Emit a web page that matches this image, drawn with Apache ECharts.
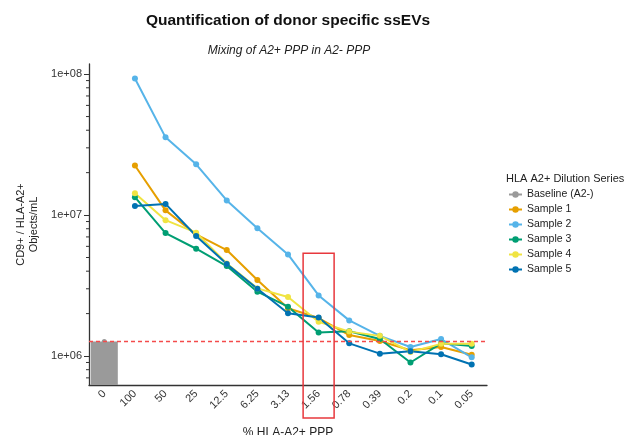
<!DOCTYPE html>
<html>
<head>
<meta charset="utf-8">
<script src="https://cdn.jsdelivr.net/npm/echarts@6/dist/echarts.min.js"></script>
<style>
  html, body { margin: 0; padding: 0; background: #fff; }
  #main { width: 633px; height: 435px; }
</style>
</head>
<body>
<div id="main"></div>
<script>
var chartDom = document.getElementById('main');
var myChart = echarts.init(chartDom);
var option;

// % HLA-A2+ PPP
const categories = ['0', '100', '50', '25', '12.5', '6.25', '3.13', '1.56', '0.78', '0.39', '0.2', '0.1', '0.05'];
const baseline = 1.27e6;
const sample1 = [null, 2.25e7, 1.08e7, 7.3e6, 5.65e6, 3.46e6, 2.18e6, 1.86e6, 1.41e6, 1.28e6, 1.10e6, 1.16e6, 1.02e6];
const sample2 = [null, 9.3e7, 3.56e7, 2.29e7, 1.27e7, 8.05e6, 5.26e6, 2.69e6, 1.79e6, 1.39e6, 1.16e6, 1.32e6, 9.8e5];
const sample3 = [null, 1.34e7, 7.45e6, 5.77e6, 4.35e6, 2.86e6, 2.24e6, 1.47e6, 1.50e6, 1.32e6, 9.0e5, 1.23e6, 1.18e6];
const sample4 = [null, 1.43e7, 9.2e6, 7.5e6, 4.54e6, 3.02e6, 2.62e6, 1.75e6, 1.49e6, 1.39e6, 1.07e6, 1.22e6, 1.22e6];
const sample5 = [null, 1.16e7, 1.20e7, 7.1e6, 4.49e6, 3.0e6, 2.01e6, 1.88e6, 1.23e6, 1.04e6, 1.08e6, 1.03e6, 8.7e5];
const minorTicks = [7e5, 8e5, 9e5, 2e6, 3e6, 4e6, 5e6, 6e6, 7e6, 8e6, 9e6, 2e7, 3e7, 4e7, 5e7, 6e7, 7e7, 8e7, 9e7];
const highlightCategory = '1.56';
const highlightTop = 5.37e6;

const samples = [
  { name: 'Sample 1', data: sample1, color: '#E69F00' },
  { name: 'Sample 2', data: sample2, color: '#56B4E9' },
  { name: 'Sample 3', data: sample3, color: '#009E73' },
  { name: 'Sample 4', data: sample4, color: '#F0E442' },
  { name: 'Sample 5', data: sample5, color: '#0072B2' }
];

const font = 'Liberation Sans, Arial, sans-serif';

const series = [];
series.push({
  type: 'bar',
  data: categories.map((c, i) => i === 0 ? baseline : '-'),
  barWidth: 27,
  itemStyle: { color: '#9A9A9A' },
  silent: true,
  z: 1
});
series.push({
  name: 'Baseline (A2-)',
  type: 'line',
  data: categories.map((c, i) => i === 0 ? baseline : '-'),
  color: '#9A9A9A',
  symbol: 'circle',
  symbolSize: 5,
  lineStyle: { width: 2 },
  markLine: {
    silent: true,
    symbol: 'none',
    label: { show: false },
    lineStyle: { color: '#F44B4B', type: [4, 3], width: 1.3 },
    data: [{ yAxis: baseline }]
  },
  z: 3
});
samples.forEach(function (s) {
  series.push({
    name: s.name,
    type: 'line',
    data: s.data,
    color: s.color,
    symbol: 'circle',
    symbolSize: 6,
    lineStyle: { width: 2 },
    z: 4
  });
});
// log-spaced minor ticks on the y axis
series.push({
  type: 'custom',
  silent: true,
  data: minorTicks.map(v => [0, v]),
  renderItem: function (params, api) {
    var y = api.coord([0, api.value(1)])[1];
    var x = params.coordSys.x;
    return {
      type: 'line',
      shape: { x1: x - 3, y1: y, x2: x, y2: y },
      style: { stroke: '#333', lineWidth: 1 }
    };
  },
  z: 5
});

option = {
  animation: false,
  backgroundColor: '#fff',
  textStyle: { fontFamily: font },
  title: [
    {
      text: 'Quantification of donor specific ssEVs',
      left: 283,
      top: 8,
      textAlign: 'center',
      textStyle: { fontSize: 15.5, fontWeight: 'bold', color: '#111', fontFamily: font }
    },
    {
      text: 'Mixing of A2+ PPP in A2- PPP',
      left: 284,
      top: 40,
      textAlign: 'center',
      textStyle: { fontSize: 12, fontStyle: 'italic', fontWeight: 'normal', color: '#222', fontFamily: font }
    },
    {
      text: 'HLA A2+ Dilution Series',
      left: 501,
      top: 168,
      textStyle: { fontSize: 11, fontWeight: 'normal', color: '#222', fontFamily: font }
    }
  ],
  legend: {
    orient: 'vertical',
    left: 508,
    top: 189,
    padding: 0,
    itemWidth: 13,
    itemHeight: 8,
    itemGap: 4,
    data: ['Baseline (A2-)', 'Sample 1', 'Sample 2', 'Sample 3', 'Sample 4', 'Sample 5'],
    textStyle: { fontSize: 10.5, color: '#222', fontFamily: font }
  },
  grid: {
    left: 89,
    right: 146,
    top: 64,
    bottom: 50,
    outerBoundsMode: 'none'
  },
  xAxis: {
    type: 'category',
    data: categories,
    name: '% HLA-A2+ PPP',
    nameLocation: 'middle',
    nameGap: 42,
    nameTextStyle: { fontSize: 12, color: '#222' },
    axisLine: { lineStyle: { color: '#333', width: 1.3 } },
    axisTick: { alignWithLabel: true, length: 4, lineStyle: { color: '#333' } },
    axisLabel: { rotate: 45, fontSize: 11, color: '#333', margin: 7, interval: 0 }
  },
  yAxis: {
    type: 'log',
    logBase: 10,
    min: 6.23e5,
    max: 1.18e8,
    name: 'CD9+ / HLA-A2+\nObjects/mL',
    nameLocation: 'middle',
    nameGap: 48,
    nameTextStyle: { fontSize: 11, color: '#222', lineHeight: 13 },
    axisLine: { show: true, lineStyle: { color: '#333', width: 1.3 } },
    axisTick: { show: true, length: 5, lineStyle: { color: '#333' } },
    splitLine: { show: false },
    axisLabel: {
      fontSize: 11,
      color: '#333',
      margin: 7,
      showMinLabel: false,
      showMaxLabel: false,
      formatter: function (v) {
        var e = Math.log10(v);
        if (Math.abs(e - Math.round(e)) > 1e-6) return '';
        e = Math.round(e);
        return '1e+' + (e < 10 ? '0' + e : e);
      }
    }
  },
  series: series
};

option && myChart.setOption(option);

// red box around the 1.56 % dilution
var cx = myChart.convertToPixel({ xAxisIndex: 0 }, highlightCategory);
var topY = myChart.convertToPixel({ yAxisIndex: 0 }, highlightTop);
var bottomY = 435 - 50 + 33;
myChart.setOption({
  graphic: [{
    type: 'rect',
    shape: { x: cx - 15.5, y: topY, width: 31, height: bottomY - topY },
    style: { fill: 'none', stroke: '#E8383D', lineWidth: 1.5 },
    z: 10
  }]
});
</script>
</body>
</html>
